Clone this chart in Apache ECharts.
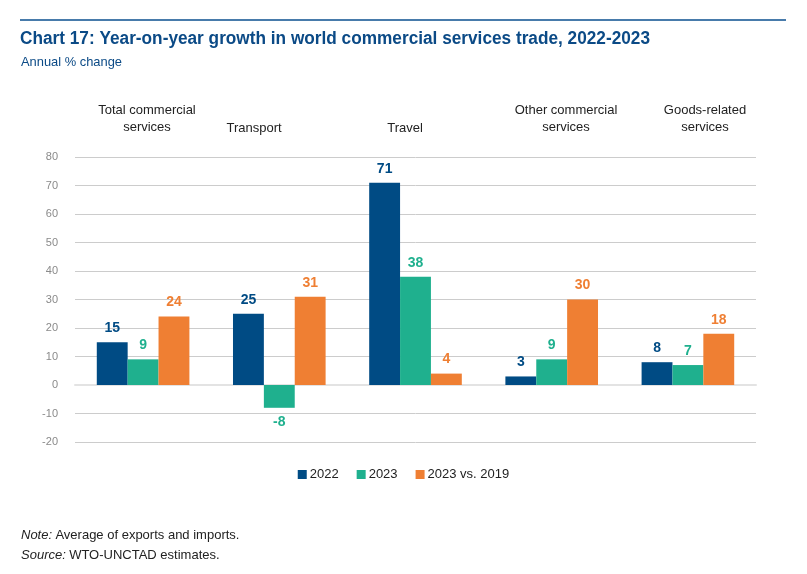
<!DOCTYPE html>
<html>
<head>
<meta charset="utf-8">
<script src="https://cdn.jsdelivr.net/npm/echarts@6/dist/echarts.min.js"></script>
<style>
html,body{margin:0;padding:0;background:#fff;}
#chart{width:807px;height:574px;}
</style>
</head>
<body>
<div id="chart"></div>
<script>
var categories = ['Total commercial\nservices', 'Transport', 'Travel', 'Other commercial\nservices', 'Goods-related\nservices'];
var seriesNames = ['2022', '2023', '2023 vs. 2019'];
var values2022 = [15, 25, 71, 3, 8];
var values2023 = [9, -8, 38, 9, 7];
var values2023vs2019 = [24, 31, 4, 30, 18];
var yTicks = {min: -20, max: 80, interval: 10};

var colors = ['#004b84', '#1fb08e', '#ef7f33'];
var catLabelX = [147, 254, 405, 566, 705];
var catLabelY = [119, 128, 128, 119, 119];

var titleText = 'Chart 17: Year-on-year growth in world commercial services trade, 2022-2023';
var subText = 'Annual % change';
var titleFont = 'bold 18px "Liberation Sans", Arial, sans-serif';
var subFont = '13px "Liberation Sans", Arial, sans-serif';

function measure(text, font) {
  var c = document.createElement('canvas').getContext('2d');
  c.font = font;
  return c.measureText(text).width;
}
var titleScale = Math.min(1, 630 / measure(titleText, titleFont));
var subScale = Math.min(1, 101 / measure(subText, subFont));

var chart = echarts.init(document.getElementById('chart'));

function mkSeries(name, data, color) {
  return {
    name: name,
    type: 'bar',
    data: data.map(function (v) {
      return {value: v, label: {position: v < 0 ? 'bottom' : 'top'}};
    }),
    barGap: '0%',
    barCategoryGap: '32%',
    itemStyle: {color: color},
    label: {
      show: true,
      distance: 7,
      color: color,
      fontWeight: 'bold',
      fontSize: 14,
      fontFamily: 'Liberation Sans, Arial, sans-serif'
    },
    emphasis: {disabled: true}
  };
}

var noteFont = 'Liberation Sans, Arial, sans-serif';
var graphics = [
  {type: 'line', shape: {x1: 20, y1: 20, x2: 786, y2: 20}, style: {stroke: '#0b4f8f', lineWidth: 1.5}},
  {type: 'text', x: 20, y: 39, scaleX: titleScale, style: {text: titleText, fill: '#0b4a86', font: titleFont, verticalAlign: 'middle'}},
  {type: 'text', x: 21, y: 62, scaleX: subScale, style: {text: subText, fill: '#0b4a86', font: subFont, verticalAlign: 'middle'}},
  {type: 'text', left: 21, top: 529, style: {rich: {i: {fontStyle: 'italic', fontSize: 13, fill: '#222', fontFamily: noteFont}, n: {fontSize: 13, fill: '#222', fontFamily: noteFont}}, text: '{i|Note:} {n|Average of exports and imports.}'}},
  {type: 'text', left: 21, top: 549, style: {rich: {i: {fontStyle: 'italic', fontSize: 13, fill: '#222', fontFamily: noteFont}, n: {fontSize: 13, fill: '#222', fontFamily: noteFont}}, text: '{i|Source:} {n|WTO-UNCTAD estimates.}'}}
];
categories.forEach(function (c, i) {
  graphics.push({
    type: 'text',
    x: catLabelX[i],
    y: catLabelY[i],
    style: {
      text: c,
      fill: '#222',
      font: '13px "Liberation Sans", Arial, sans-serif',
      align: 'center',
      verticalAlign: 'middle',
      lineHeight: 17
    }
  });
});

chart.setOption({
  animation: false,
  color: colors,
  grid: {left: 75, right: 51, top: 157, bottom: 132},
  legend: {
    data: seriesNames,
    bottom: 88,
    left: 'center',
    icon: 'rect',
    itemWidth: 9,
    itemHeight: 9,
    itemGap: 18,
    textStyle: {color: '#222', fontSize: 13, fontFamily: 'Liberation Sans, Arial, sans-serif', padding: [0, 0, 0, -2]}
  },
  xAxis: {
    type: 'category',
    data: categories,
    axisLabel: {show: false},
    axisTick: {show: false},
    axisLine: {show: true, onZero: true, lineStyle: {color: '#e3e3e3', width: 2}}
  },
  yAxis: {
    type: 'value',
    min: yTicks.min,
    max: yTicks.max,
    interval: yTicks.interval,
    axisLine: {show: false},
    axisTick: {show: false},
    axisLabel: {color: '#8a8a8a', fontSize: 11, margin: 17, fontFamily: 'Liberation Sans, Arial, sans-serif'},
    splitLine: {lineStyle: {color: '#cccccc', width: 1}}
  },
  series: [
    mkSeries(seriesNames[0], values2022, colors[0]),
    mkSeries(seriesNames[1], values2023, colors[1]),
    mkSeries(seriesNames[2], values2023vs2019, colors[2])
  ],
  graphic: graphics
});
</script>
</body>
</html>
